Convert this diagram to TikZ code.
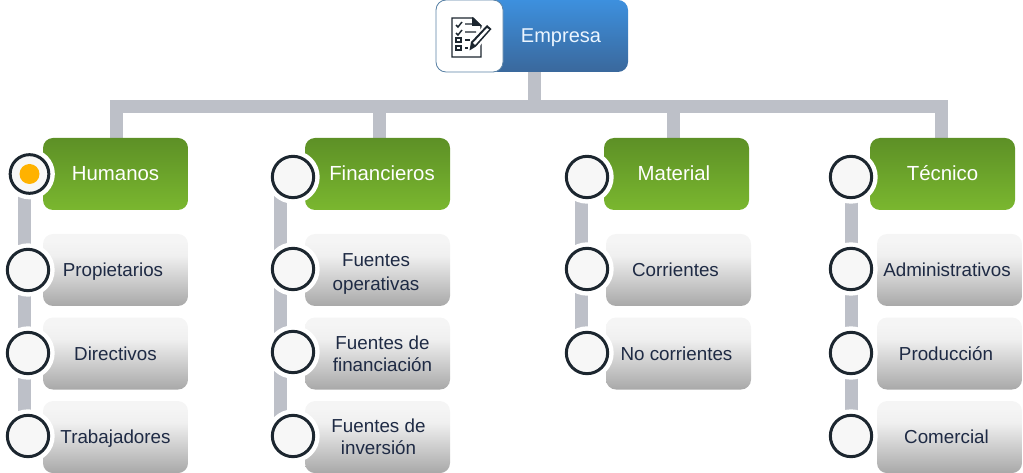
\documentclass[tikz,border=0pt]{standalone}
\usepackage{fontspec}
\setmainfont{Liberation Sans}
\usepackage{xcolor}
\usetikzlibrary{positioning,calc,backgrounds}

\definecolor{barcol}{HTML}{BDC0C8}
\definecolor{inkcol}{HTML}{1C262F}
\definecolor{textcol}{HTML}{1E2A44}
\pgfdeclareverticalshading{greyfade}{100bp}{
  color(0bp)=(black!34!white); color(25bp)=(black!34!white);
  color(60bp)=(black!6!white); color(70bp)=(black!4!white); color(100bp)=(black!4!white)}

\begin{document}
\begin{tikzpicture}[
  x=0.75pt, y=-0.75pt,
  node distance=17.6pt,
  base/.style={rounded corners=7.5pt, align=center, inner sep=0pt, minimum width=108.75pt, minimum height=54pt},
  head/.style={base, font=\fontsize{15.3}{18}\selectfont, top color={rgb,255:red,93;green,144;blue,38}, bottom color={rgb,255:red,122;green,183;blue,47}, text=white, text depth=1.5pt},
  item/.style={base, font=\fontsize{14.1}{18}\selectfont, shading=greyfade, text=textcol, text depth=0pt},
  top/.style={base, font=\fontsize{15}{18}\selectfont, minimum width=144pt, top color={rgb,255:red,61;green,144;blue,222}, bottom color={rgb,255:red,58;green,104;blue,156}, text={rgb,255:red,235;green,245;blue,255}, text depth=0pt},
  dot/.style={circle, draw=inkcol, line width=2.25pt, fill=black!3!white, minimum size=31pt, inner sep=0pt,
    preaction={draw=white, line width=9pt}},
  bar/.style={draw=barcol, line width=9.75pt}
]
\useasboundingbox (0,0) rectangle (1023,473);

% Top box
\node[top, at={(532,36)}] (empresa) {\hspace*{43.5pt}Empresa};
\node[base, minimum width=50.25pt, fill=white, draw={rgb,255:red,90;green,130;blue,165}, line width=0.6pt, at={(469.5,36)}] (iconbox) {};

% Columns
\node[head, at={(115.5,174)}] (humanos) {Humanos};
\node[item, below=of humanos] (propietarios) {\hspace*{-3.75pt}Propietarios};
\node[item, below=8.25pt of propietarios] (directivos) {Directivos};
\node[item, below=8.25pt of directivos] (trabajadores) {Trabajadores};

\node[head, at={(377.5,174)}] (financieros) {\hspace*{6.75pt}Financieros};
\node[item, below=of financieros] (operativas) {\rule{0pt}{12.5pt}\hspace*{-2.25pt}Fuentes\\\hspace*{-2.25pt}operativas};
\node[item, below=8.25pt of operativas] (financiacion) {\hspace*{7.5pt}Fuentes de\\[-1.5pt]\hspace*{7.5pt}financiación};
\node[item, below=8.25pt of financiacion] (inversion) {\hspace*{1.5pt}Fuentes de\\[-1.5pt]\hspace*{1.5pt}inversión};

\node[head, at={(676.5,174)}] (material) {\hspace*{-3.75pt}Material};
\node[item, at={(678.5,270)}] (corrientes) {\hspace*{-4.5pt}Corrientes};
\node[item, below=8.25pt of corrientes] (nocorrientes) {\hspace*{-3pt}No corrientes};

\node[head, at={(942.5,174)}] (tecnico) {Técnico};
\node[item, at={(949.5,270)}] (administrativos) {\hspace*{-3.75pt}Administrativos};
\node[item, below=8.25pt of administrativos] (produccion) {\hspace*{-5.25pt}Producción};
\node[item, below=8.25pt of produccion] (comercial) {\hspace*{-4.5pt}Comercial};

% Circles
\node[dot, minimum size=29pt, at={(29.5,174)}] (dhumanos) {};
\node[circle, fill={rgb,255:red,255;green,178;blue,0}, minimum size=15pt, inner sep=0pt, at={(dhumanos)}] (dselected) {};
\node[dot, at={(28,270)}] (dprop) {};
\node[dot, at={(28,353)}] (ddir) {};
\node[dot, at={(28,436)}] (dtrab) {};
\node[dot, at={(293,177)}] (dfin) {};
\node[dot, at={(293,269)}] (doper) {};
\node[dot, at={(293,352)}] (dfinan) {};
\node[dot, at={(293,436)}] (dinv) {};
\node[dot, at={(587,177)}] (dmat) {};
\node[dot, at={(587,269)}] (dcorr) {};
\node[dot, at={(587,353)}] (dnocorr) {};
\node[dot, at={(851,177)}] (dtec) {};
\node[dot, at={(851,269)}] (dadmin) {};
\node[dot, at={(851,353)}] (dprod) {};
\node[dot, at={(851,436)}] (dcom) {};

% Connector bars
\coordinate (busy) at (534,106.5);
\begin{scope}[on background layer]
\draw[bar] (busy) -- (empresa.south -| busy);
\draw[bar] ([xshift=-4.9pt]busy -| 116.5,0) -- ([xshift=4.9pt]busy -| 941,0);
\draw[bar] (humanos.north -| 116.5,0) -- (busy -| 116.5,0);
\draw[bar] (financieros.north -| 379.5,0) -- (busy -| 379.5,0);
\draw[bar] (material.north -| 673.5,0) -- (busy -| 673.5,0);
\draw[bar] (tecnico.north -| 941,0) -- (busy -| 941,0);
\draw[bar] (dhumanos -| 24,0) -- (dtrab -| 24,0);
\draw[bar] (dfin -| 280.5,0) -- (dinv -| 280.5,0);
\draw[bar] (dmat -| 581,0) -- (dnocorr -| 581,0);
\draw[bar] (dtec -| 851,0) -- (dcom -| 851,0);
\end{scope}

% Icon
\begin{scope}[inkcol, line width=1.1pt]
\draw[fill=white] (452,18) -- (473,18) -- (481,26) -- (481,57) -- (452,57) -- cycle;
\fill (472,17) -- (482,26) -- (472,26) -- cycle;
\draw (456,25) -- (458,27) -- (462,22) (465,24) -- (472,24);
\draw (456,33) -- (458,35) -- (462,30) (465,32) -- (476,32);
\draw (456,38) rectangle (461,42) (465,40) -- (470,40);
\draw (456,46) rectangle (461,50) (465,48) -- (468,48);
\fill[white] (469,53) -- (468,45) -- (486,22) -- (494,28) -- (475,52) -- cycle;
\fill (469.5,50.5) -- (471,42) -- (487,25) -- (491.5,29) -- (476,46.5) -- cycle;
\fill[white] (473,43) -- (487,28) -- (489,29.5) -- (475,45) -- cycle;
\end{scope}
\end{tikzpicture}
\end{document}
